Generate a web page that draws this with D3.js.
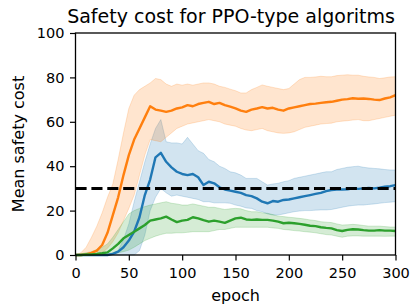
<!DOCTYPE html>
<html>
<head>
<meta charset="utf-8">
<script src="https://cdn.jsdelivr.net/npm/d3@7"></script>
<style>
  html, body { margin: 0; padding: 0; background: #fff; }
  svg { display: block; font-family: "DejaVu Sans", sans-serif; }
</style>
</head>
<body>
<svg id="chart" width="412" height="307"></svg>
<script>
// ---- data ----
const epochs = [0,5,10,15,20,25,30,35,40,45,50,55,60,65,70,75,80,85,90,95,100,105,110,115,120,125,130,135,140,145,150,155,160,165,170,175,180,185,190,195,200,205,210,215,220,225,230,235,240,245,250,255,260,265,270,275,280,285,290,295,300];

const blueMean = [0,0,0,0,0, 0,0,0.5,1.5,3.5, 6.5,10.5,17,27,34, 44,46,42,39.5,37.5, 36.5,36,36.5,35,31.5, 33,32.3,30.5,29.5,29, 28.5,28,27,26.5,25.5, 24,23.3,24.3,24,24.8, 25,25.5,26,26.5,27, 27.5,28,28.8,29.3,29.5, 29.5,29.6,30,29.8,30, 30.2,30,30.3,30.8,31, 31.5];
const blueHi = [0,0,0,0,0, 0,0.5,1,2,7, 14,24,33,42,50, 57,61,51,50.5,50.5, 50,53,50,47,45.8, 43,42,40,39,37.5, 37,36,34.5,34.5,34.5, 33,31.5,32,32.3,33, 33.5,34.5,35,35.5,36, 36.5,37,37.5,37.5,38.5, 39,39.5,39.8,40,39.5, 39.2,39,38.8,38.5,38.3, 38.3];
const blueLo = [0,0,0,0,0, 0,0,0,0,0, 0,0,2,9,20, 26,30,28,26.5,27, 26.5,26,25.5,25,24, 24,23.5,23.5,23.5,23.3, 22.5,22,21.2,21,20, 19.5,18.5,18,18,18.5, 19,19.5,19.8,20,20, 20.2,20.3,20.3,20.5,21, 21.5,22,22.3,22.5,22.5, 22.8,23,23.3,23.6,23.8, 24];

const orangeMean = [0,0,0.3,1,2, 4.5,10,18,26,36, 45,52,57,62,67, 65.5,65,64.5,65,66, 66.5,67.5,67,68,68.5, 69,68,68.5,67.5,66.8, 66,65,64.5,65.5,66, 66.6,66,66.3,65.5,65, 66,66.5,67,67.5,68, 68.2,68.5,68.8,69,69.5, 70,70.2,70.6,70.4,70.5, 70.3,70,69.8,70.5,71, 72];
const orangeHi = [0,1,3.5,8,13, 19,26,32,43,55, 66,72,74.5,76,77.5, 79.5,79,77,76,77, 76.5,77,76.5,77,77.5, 77.5,77,76,75.5,74.7, 74,73,73,74.5,75.5, 76.6,76,75.5,75,74.5, 75,77,79,80,80, 80.2,80.5,80.3,80.3,80.8, 81,81.2,81,81,80.5, 80.2,80,79.5,79.8,80.2, 80.3];
const orangeLo = [0,0,0,0,0.3, 1,3,6,10,15.5, 21,27,36,45,52, 51.5,51,53,55,57, 58,59,59.5,60,60.5, 61,60.5,60,59,58.5, 58,57,56.3,56,56.5, 57,56,55.5,55,54.8, 55,55.5,56.5,57.5,58, 58.5,59,59.2,59.4,60, 60.3,60.5,60.8,61,60.5, 60.5,61,61.5,62,62.5, 63];

const greenMean = [0,0,0.2,0.3,0.5, 0.8,1.2,3,5,7.5, 9,10.5,12,13.5,15.5, 16,16.5,17.3,16,14.8, 15.5,15.8,17,16.5,15.7, 15,15.5,15,14.5,15.5, 16.5,16.8,16,15.8,16, 15.8,15.8,15.5,15,14.3, 14.5,14.3,14,13.6,13.2, 13,12.5,12.2,12,11.2, 10.8,11.3,11.6,11.5,11.2, 11,11,11.2,11,11, 10.8];
const greenHi = [0,0.5,1,1.5,2.5, 3.5,5,8,11.5,15, 18.5,20,21,21.8,22.5, 23,23.5,24,23.3,23, 22.5,22.5,23,22.5,22, 21.5,21.5,21,20.5,20.8, 21,20.8,20,19.5,19.5, 19,18.8,18.2,17.5,17.3, 17,16.8,16.5,16.2,15.8, 15.5,15,14.8,14.6,14, 13.5,13.6,13.8,13.6,13.3, 13,13,13,12.8,12.6, 12.6];
const greenLo = [0,0,0,0,0, 0,0,0.5,1,1.5, 2.2,3.5,5,6.5,7.5, 8.5,9.2,9.8,9.8,10, 10,10.2,10.5,10.5,10.5, 10.5,11,11.5,11.5,12, 12.5,12.5,12.5,12.5,12.5, 12.5,12.5,12.2,12,11.5, 11.3,11,10.8,10.5,10.3, 10,9.6,9.2,9,8.5, 8,8.5,8.6,8.6,8.5, 8.5,8.5,8.5,8.4,8.5, 8.5];

const threshold = 30;
const xTicks = [0, 50, 100, 150, 200, 250, 300];
const yTicks = [0, 20, 40, 60, 80, 100];
const titleText = "Safety cost for PPO-type algoritms";
const xLabel = "epoch";
const yLabel = "Mean safety cost";

// ---- layout ----
const L = 75.5, R = 395.5, T = 33, B = 255;
const svg = d3.select("#chart");
const x = d3.scaleLinear().domain([0, 300]).range([L, R]);
const y = d3.scaleLinear().domain([0, 100]).range([B, T]);

const series = [
  { mean: blueMean, lo: blueLo, hi: blueHi, color: "#1f77b4" },
  { mean: orangeMean, lo: orangeLo, hi: orangeHi, color: "#ff7f0e" },
  { mean: greenMean, lo: greenLo, hi: greenHi, color: "#2ca02c" }
];

const area = d3.area().x(d => x(d.e)).y0(d => y(d.lo)).y1(d => y(d.hi));
const line = d3.line().x(d => x(d.e)).y(d => y(d.v));

const plot = svg.append("g");
series.forEach(s => {
  const rows = epochs.map((e, i) => ({ e, lo: s.lo[i], hi: s.hi[i] }));
  plot.append("path").datum(rows).attr("d", area)
    .attr("fill", s.color).attr("fill-opacity", 0.2)
    .attr("stroke", s.color).attr("stroke-opacity", 0.2).attr("stroke-width", 1);
});
series.forEach(s => {
  const rows = epochs.map((e, i) => ({ e, v: s.mean[i] }));
  plot.append("path").datum(rows).attr("d", line)
    .attr("fill", "none").attr("stroke", s.color).attr("stroke-width", 2.4)
    .attr("stroke-linejoin", "round");
});

// threshold
plot.append("line")
  .attr("x1", x(0)).attr("x2", x(300)).attr("y1", y(threshold)).attr("y2", y(threshold))
  .attr("stroke", "#000").attr("stroke-width", 3).attr("stroke-dasharray", "11.1,4.8");

// axes
const xAxis = svg.append("g").attr("transform", `translate(0,${B})`)
  .call(d3.axisBottom(x).tickValues(xTicks).tickSize(5.5).tickPadding(7.5).tickFormat(d3.format("d")));
const yAxis = svg.append("g").attr("transform", `translate(${L},0)`)
  .call(d3.axisLeft(y).tickValues(yTicks).tickSize(5.5).tickPadding(5.5).tickFormat(d3.format("d")));
[xAxis, yAxis].forEach(a => {
  a.select(".domain").remove();
  a.selectAll(".tick line").attr("stroke", "#000").attr("stroke-width", 1.2);
  a.selectAll(".tick text").attr("fill", "#000")
    .style("font-family", "'DejaVu Sans', sans-serif").style("font-size", "14.5px");
});

// frame
svg.append("rect").attr("x", L).attr("y", T).attr("width", R - L).attr("height", B - T)
  .attr("fill", "none").attr("stroke", "#000").attr("stroke-width", 1.3);

// texts
svg.append("text").attr("x", 231).attr("y", 23).attr("text-anchor", "middle")
  .style("font-size", "19px").attr("fill", "#000").text(titleText);
svg.append("text").attr("x", (L + R) / 2).attr("y", 301).attr("text-anchor", "middle")
  .style("font-size", "16px").attr("fill", "#000").text(xLabel);
svg.append("text").attr("transform", `translate(23.5,${(T + B) / 2}) rotate(-90)`)
  .attr("text-anchor", "middle").style("font-size", "16px").attr("fill", "#000").text(yLabel);
</script>
</body>
</html>
